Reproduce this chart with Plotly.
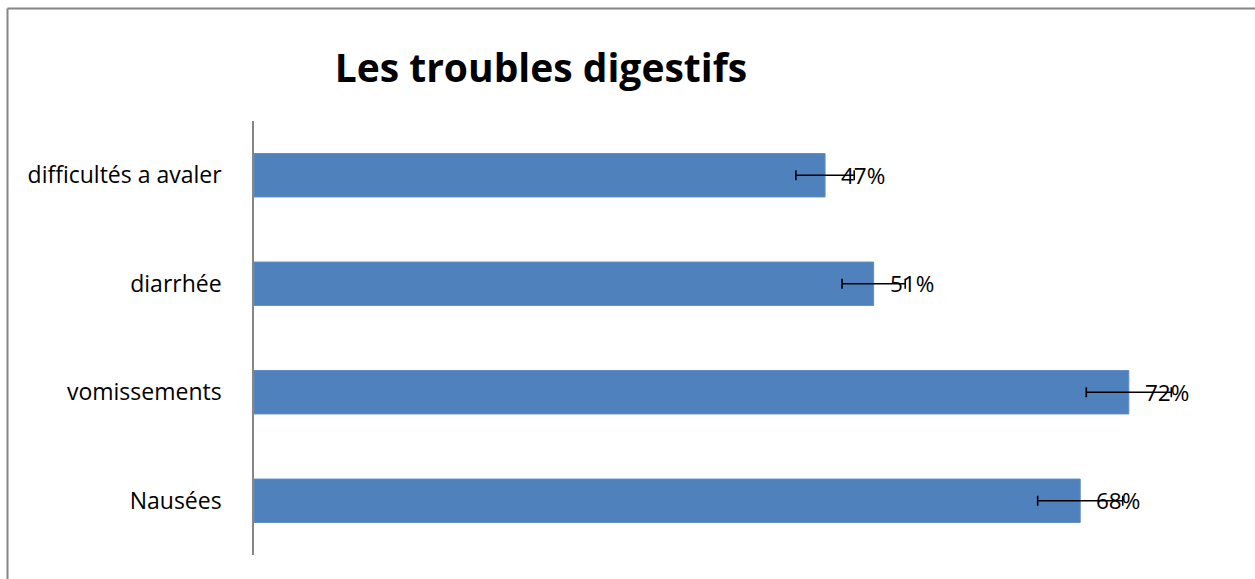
import plotly.graph_objects as go

categories = ["Nausées", "vomissements", "diarrhée", "difficultés a avaler"]
values = [68, 72, 51, 47]
errors = [3.5, 3.5, 2.6, 2.4]
labels = ["68%", "72%", "51%", "47%"]

FONT = "Open Sans"
fig = go.Figure()
fig.add_trace(go.Bar(
    y=categories, x=values, orientation="h",
    marker=dict(color="#4F81BD", line=dict(color="#5E8CC4", width=1)),
    error_x=dict(type="data", array=errors, symmetric=True, color="black", thickness=1.6, width=5),
    hoverinfo="skip",
))
for c, v, t in zip(categories, values, labels):
    fig.add_annotation(x=v, y=c, text=t, showarrow=False, xanchor="left", xshift=14,
                       font=dict(family=FONT, size=22.5, color="black"))

fig.update_layout(
    width=1255, height=579,
    margin=dict(l=254, r=29, t=121, b=24),
    paper_bgcolor="white", plot_bgcolor="white",
    bargap=0.6,
    showlegend=False,
    title=dict(text="<b>Les troubles digestifs</b>", x=0.431, xanchor="center",
               y=1 - 68 / 579, yanchor="middle", yref="container",
               font=dict(family=FONT, size=39, color="black")),
    xaxis=dict(range=[0, 80], visible=False, showgrid=False, zeroline=False),
    yaxis=dict(showline=True, linecolor="#868686", linewidth=1.5, showgrid=False,
               ticks="", ticklabelstandoff=26,
               tickfont=dict(family=FONT, size=23, color="black")),
)
# outer chart border (left and top edges visible)
fig.add_shape(type="line", xref="paper", yref="paper", x0=-0.2536, x1=1.2, y0=1.2592, y1=1.2592,
              line=dict(color="#868686", width=2))
fig.add_shape(type="line", xref="paper", yref="paper", x0=-0.2536, x1=-0.2536, y0=1.2592, y1=-0.2,
              line=dict(color="#868686", width=2))
fig.write_html("out.html")
